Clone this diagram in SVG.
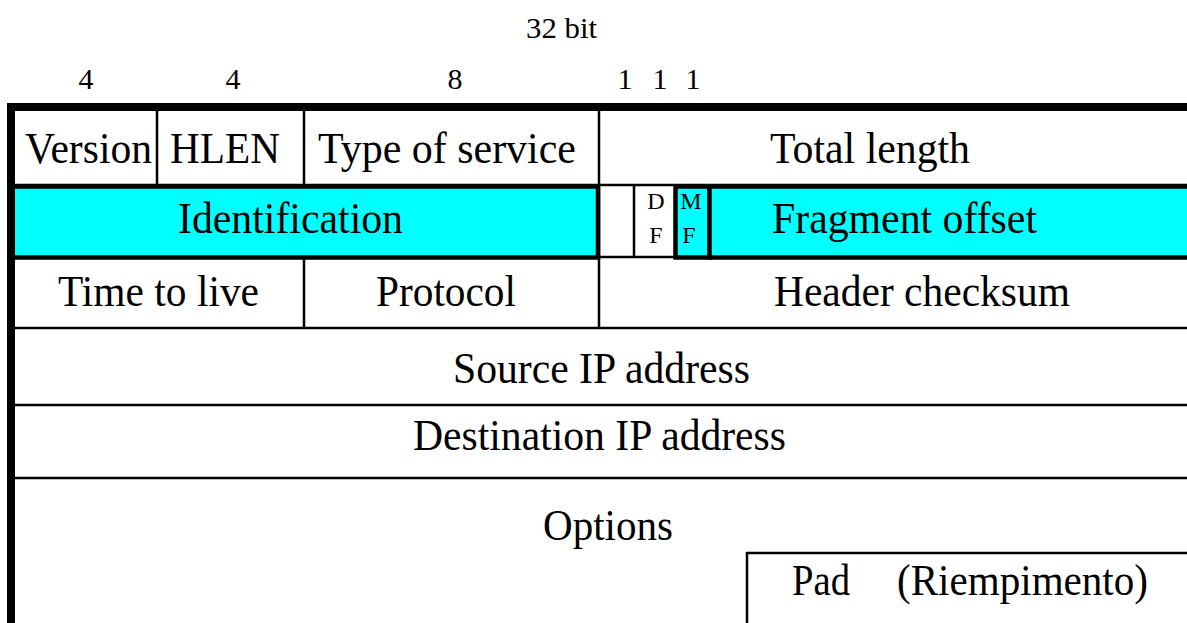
<svg xmlns="http://www.w3.org/2000/svg" width="1187" height="623" viewBox="0 0 1187 623">
<style>
text{font-family:"Liberation Serif","Times New Roman",serif;fill:#000}
.big{font-size:44px}
.lbl{font-size:30px}
.flag{font-size:24px;text-anchor:middle}
.thin{stroke:#000;stroke-width:2.5;fill:none}
.thick{stroke:#000;stroke-width:8;fill:none}
.cyan{fill:#00ffff;stroke:#000;stroke-width:4.5}
</style>
<rect width="1187" height="623" fill="#fff"/>
<g id="header-labels">
<text class="lbl" x="526" y="38" textLength="71" lengthAdjust="spacingAndGlyphs">32 bit</text>
<text class="lbl" x="86" y="89" text-anchor="middle">4</text>
<text class="lbl" x="233" y="89" text-anchor="middle">4</text>
<text class="lbl" x="455" y="89" text-anchor="middle">8</text>
<text class="lbl" x="625" y="89" text-anchor="middle">1</text>
<text class="lbl" x="660" y="89" text-anchor="middle">1</text>
<text class="lbl" x="693" y="89" text-anchor="middle">1</text>
</g>
<g id="connectors">
<line class="thin" x1="11" y1="185" x2="1187" y2="185"/>
<line class="thin" x1="157" y1="107" x2="157" y2="185"/>
<line class="thin" x1="304" y1="107" x2="304" y2="185"/>
<line class="thin" x1="599" y1="107" x2="599" y2="328"/>
<line class="thin" x1="634" y1="185" x2="634" y2="258"/>
<line class="thin" x1="599" y1="257" x2="675" y2="257"/>
<line class="thin" x1="304" y1="258" x2="304" y2="328"/>
<line class="thin" x1="11" y1="328" x2="1187" y2="328"/>
<line class="thin" x1="11" y1="405" x2="1187" y2="405"/>
<line class="thin" x1="11" y1="478" x2="1187" y2="478"/>
</g>
<g id="row2-boxes">
<rect id="identification-box" class="cyan" x="11" y="186.5" width="587" height="71"/>
<rect id="mf-box" class="cyan" x="675.5" y="186.5" width="34" height="71"/>
<rect id="fragment-box" class="cyan" x="709.5" y="186.5" width="490" height="71"/>
</g>
<g id="outer-border">
<line class="thick" x1="7" y1="107" x2="1187" y2="107"/>
<line class="thick" x1="11" y1="103" x2="11" y2="623"/>
</g>
<g id="pad-box">
<polyline class="thin" points="747,623 747,553 1187,553"/>
</g>
<g id="version"><text class="big" x="25" y="163" textLength="127" lengthAdjust="spacingAndGlyphs">Version</text></g>
<g id="hlen"><text class="big" x="170" y="163" textLength="110" lengthAdjust="spacingAndGlyphs">HLEN</text></g>
<g id="tos"><text class="big" x="318" y="163" textLength="258" lengthAdjust="spacingAndGlyphs">Type of service</text></g>
<g id="total-length"><text class="big" x="770" y="163" textLength="200" lengthAdjust="spacingAndGlyphs">Total length</text></g>
<g id="identification"><text class="big" x="178" y="233" textLength="225" lengthAdjust="spacingAndGlyphs">Identification</text></g>
<g id="df"><text class="flag" x="656" y="209">D</text><text class="flag" x="656" y="243">F</text></g>
<g id="mf"><text class="flag" x="691" y="209">M</text><text class="flag" x="689" y="243">F</text></g>
<g id="fragment-offset"><text class="big" x="772" y="233" textLength="265" lengthAdjust="spacingAndGlyphs">Fragment offset</text></g>
<g id="ttl"><text class="big" x="58" y="306" textLength="201" lengthAdjust="spacingAndGlyphs">Time to live</text></g>
<g id="protocol"><text class="big" x="376" y="306" textLength="140" lengthAdjust="spacingAndGlyphs">Protocol</text></g>
<g id="checksum"><text class="big" x="774" y="306" textLength="296" lengthAdjust="spacingAndGlyphs">Header checksum</text></g>
<g id="source"><text class="big" x="453" y="383" textLength="297" lengthAdjust="spacingAndGlyphs">Source IP address</text></g>
<g id="destination"><text class="big" x="413" y="450" textLength="373" lengthAdjust="spacingAndGlyphs">Destination IP address</text></g>
<g id="options"><text class="big" x="543" y="540" textLength="130" lengthAdjust="spacingAndGlyphs">Options</text></g>
<g id="pad"><text class="big" x="792" y="595" textLength="58" lengthAdjust="spacingAndGlyphs">Pad</text><text class="big" x="897" y="595" textLength="251" lengthAdjust="spacingAndGlyphs">(Riempimento)</text></g>
</svg>
